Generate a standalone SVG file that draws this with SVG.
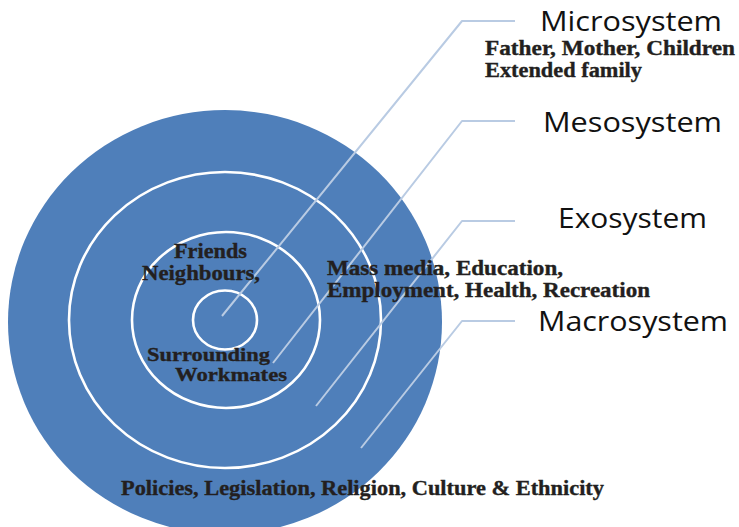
<svg xmlns="http://www.w3.org/2000/svg" width="739" height="527" viewBox="0 0 739 527">
  <style>
    .ring { fill: none; stroke: #ffffff; stroke-width: 2.6; }
    .conn { fill: none; stroke: #b9cbe3; stroke-width: 2; stroke-linejoin: round; }
    .head { font-family: "Open Sans", "Liberation Sans", sans-serif; font-size: 28px; fill: #111111; }
    .item { font-family: "Liberation Serif", "DejaVu Serif", serif; font-weight: bold; font-size: 20.5px; fill: #231f20; stroke: #231f20; stroke-width: 0.35; }
    .tight { font-size: 19.5px; }
  </style>
  <rect width="739" height="527" fill="#ffffff"/>
  <g id="circles">
    <ellipse id="macro-area" cx="225" cy="322" rx="217" ry="212" fill="#4f7fba"/>
    <ellipse id="exo-ring" class="ring" cx="225" cy="320" rx="156" ry="148"/>
    <ellipse id="meso-ring" class="ring" cx="226" cy="320" rx="94" ry="88"/>
    <ellipse id="micro-ring" class="ring" cx="225" cy="320" rx="32" ry="29.5"/>
  </g>
  <g id="connectors">
    <polyline class="conn" points="222,316 462,21 515,21"/>
    <polyline class="conn" points="273,363 462,121 515,121"/>
    <polyline class="conn" points="316,406 462,221 515,221"/>
    <polyline class="conn" points="361,448 462,321 515,321"/>
  </g>
  <g id="microsystem">
    <text class="head" x="540" y="31" textLength="182" lengthAdjust="spacingAndGlyphs">Microsystem</text>
    <text class="item" x="485" y="55" textLength="250" lengthAdjust="spacingAndGlyphs">Father, Mother, Children</text>
    <text class="item" x="485" y="77" textLength="157" lengthAdjust="spacingAndGlyphs">Extended family</text>
  </g>
  <g id="mesosystem">
    <text class="head" x="543" y="132" textLength="179" lengthAdjust="spacingAndGlyphs">Mesosystem</text>
    <text class="item" x="174" y="258" textLength="73" lengthAdjust="spacingAndGlyphs">Friends</text>
    <text class="item" x="142" y="280" textLength="118" lengthAdjust="spacingAndGlyphs">Neighbours,</text>
    <text class="item tight" x="147" y="361" textLength="123" lengthAdjust="spacingAndGlyphs">Surrounding</text>
    <text class="item tight" x="175" y="381" textLength="112" lengthAdjust="spacingAndGlyphs">Workmates</text>
  </g>
  <g id="exosystem">
    <text class="head" x="558" y="228" textLength="149" lengthAdjust="spacingAndGlyphs">Exosystem</text>
    <text class="item" x="327" y="275" textLength="236" lengthAdjust="spacingAndGlyphs">Mass media, Education,</text>
    <text class="item" x="327" y="297" textLength="323" lengthAdjust="spacingAndGlyphs">Employment, Health, Recreation</text>
  </g>
  <g id="macrosystem">
    <text class="head" x="538" y="331" textLength="190" lengthAdjust="spacingAndGlyphs">Macrosystem</text>
    <text class="item" x="121" y="495" textLength="483" lengthAdjust="spacingAndGlyphs">Policies, Legislation, Religion, Culture &amp; Ethnicity</text>
  </g>
</svg>
